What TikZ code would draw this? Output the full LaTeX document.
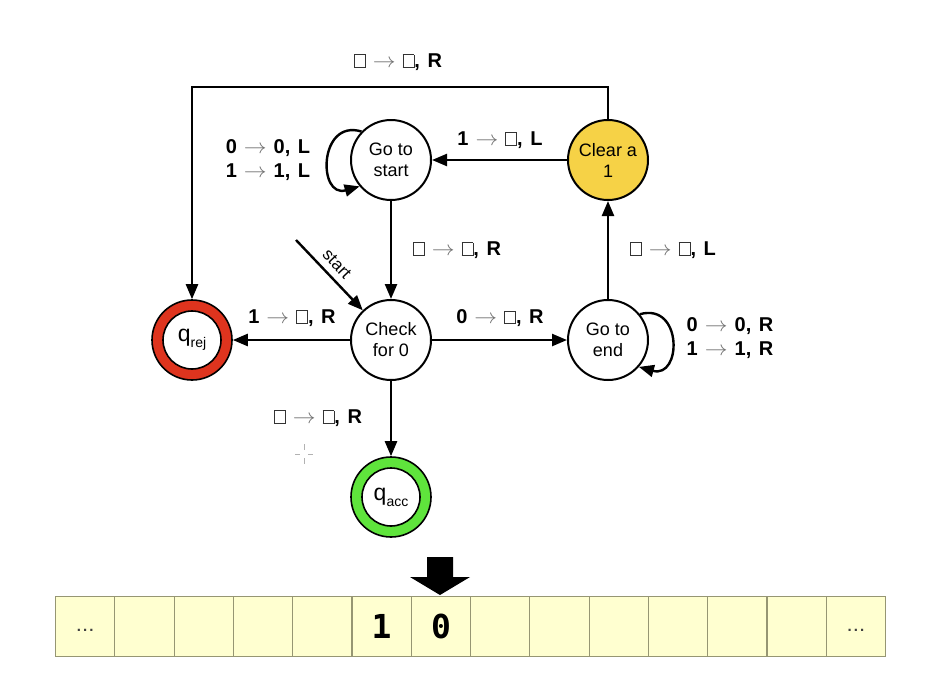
\documentclass[tikz,border=0pt]{standalone}
\usepackage{fontspec}
\setmainfont{Liberation Sans}
\newfontfamily\tapefont{DejaVu Sans Mono}
\usetikzlibrary{arrows.meta}

\definecolor{rejred}{RGB}{222,52,30}
\definecolor{accgreen}{RGB}{95,228,60}
\definecolor{clryellow}{RGB}{246,210,70}
\definecolor{tapefill}{RGB}{255,255,208}
\definecolor{tapeline}{RGB}{150,150,115}
\definecolor{arrgray}{RGB}{110,110,110}

% blank tape symbol
\newcommand\blanksym{{\setlength{\fboxsep}{0pt}\setlength{\fboxrule}{0.9pt}\textcolor{black!80}{\fbox{\rule{0pt}{12pt}\hspace{10pt}}}}}
% transition label: read -> write, move
\newcommand\trans[3]{#1\hspace{7pt}\textcolor{arrgray}{\scalebox{1.1}[1]{$\rightarrow$}}\hspace{7pt}#2,\hspace{2pt} #3}

\tikzset{
  state/.style={circle, draw, line width=2pt, minimum size=80pt, inner sep=0pt,
    font=\fontsize{18}{21}\selectfont, align=center, fill=white},
  ring/.style={circle, draw, line width=1.6pt, minimum size=80pt, inner sep=0pt},
  ringin/.style={circle, draw, line width=1.6pt, minimum size=58pt, inner sep=0pt,
    fill=white, font=\fontsize{23}{23}\selectfont},
  lab/.style={font=\fontsize{20}{24}\selectfont\bfseries, align=left, inner sep=0pt},
  arr/.style={line width=2.4pt, -{Triangle[length=15pt,width=12pt]}},
  cell/.style={draw=tapeline, fill=tapefill, line width=1.1pt, minimum width=59.29pt,
    minimum height=60pt, inner sep=0pt, anchor=north west},
  digit/.style={font=\tapefont\bfseries\fontsize{33}{33}\selectfont},
  dots/.style={font=\bfseries\fontsize{15}{15}\selectfont, text=black!75}
}

\begin{document}
\begin{tikzpicture}[x=1pt, y=-1pt]
\useasboundingbox (0,0) rectangle (948,686);

% states
\node[state] (gs) at (391,160) {Go to\\start};
\node[state, fill=clryellow] (clr) at (608,160) {Clear a\\1};
\node[state] (chk) at (391,340) {Check\\for 0};
\node[state] (end) at (608,340) {Go to\\end};
\node[ring, fill=rejred] (rej) at (192,340) {};
\node[ringin] (rejin) at (rej) {q\raisebox{-6pt}{\fontsize{14}{14}\selectfont rej}};
\node[ring, fill=accgreen] (acc) at (391,497) {};
\node[ringin] (accin) at (acc) {q\raisebox{-6pt}{\fontsize{14}{14}\selectfont acc}};

% transitions
\draw[arr] (clr.north) -- ++(0,-32) -| (rej.north);
\draw[arr] (clr) -- (gs);
\draw[arr] (gs) -- (chk);
\draw[arr] (chk) -- (rej);
\draw[arr] (chk) -- (end);
\draw[arr] (end) -- (clr);
\draw[arr] (chk) -- (acc);
\draw[arr] (gs.136) .. controls +(-43,-13) and +(-42,12) .. (gs.220);
\draw[arr] (end.39) .. controls +(43,-12) and +(43,12) .. (end.-41);

% start marker
\coordinate (st) at (296,240);
\draw[arr] (st) -- node[sloped, above=3pt, pos=0.47, font=\fontsize{17}{17}\selectfont] (stlab) {start} (chk);

% transition labels
\node[lab] (l1) at (398,62) {\trans{\blanksym}{\blanksym}{R}};
\node[lab] (l2) at (500,140) {\trans{1}{\blanksym}{L}};
\node[lab] (l3) at (268,160) {\trans{0}{0}{L}\\\trans{1}{1}{L}};
\node[lab] (l4) at (457,250) {\trans{\blanksym}{\blanksym}{R}};
\node[lab] (l5) at (292,318) {\trans{1}{\blanksym}{R}};
\node[lab] (l6) at (500,318) {\trans{0}{\blanksym}{R}};
\node[lab] (l7) at (673,250) {\trans{\blanksym}{\blanksym}{L}};
\node[lab] (l8) at (730,338) {\trans{0}{0}{R}\\\trans{1}{1}{R}};
\node[lab] (l9) at (318,418) {\trans{\blanksym}{\blanksym}{R}};

% pointer crosshair
\begin{scope}[gray!60, line width=0.8pt]
  \draw (295,454) -- (300,454);
  \draw (308,454) -- (313,454);
  \draw (304,444) -- (304,450);
  \draw (304,458) -- (304,464);
\end{scope}

% tape
\foreach \i in {0,...,13} {
  \node[cell] (c\i) at ({55+\i*59.29},596) {};
}
\node[dots] (d0) at ([yshift=-4pt]c0.center) {.\hspace{2pt}.\hspace{2pt}.};
\node[dots] (d13) at ([yshift=-4pt]c13.center) {.\hspace{2pt}.\hspace{2pt}.};
\node[digit] (t5) at (c5.center) {1};
\node[digit] (t6) at (c6.center) {0};

% tape head
\fill (427,557) -- (453,557) -- (453,577) -- (470,577) -- (440,595)
      -- (410,577) -- (427,577) -- cycle;
\end{tikzpicture}
\end{document}
